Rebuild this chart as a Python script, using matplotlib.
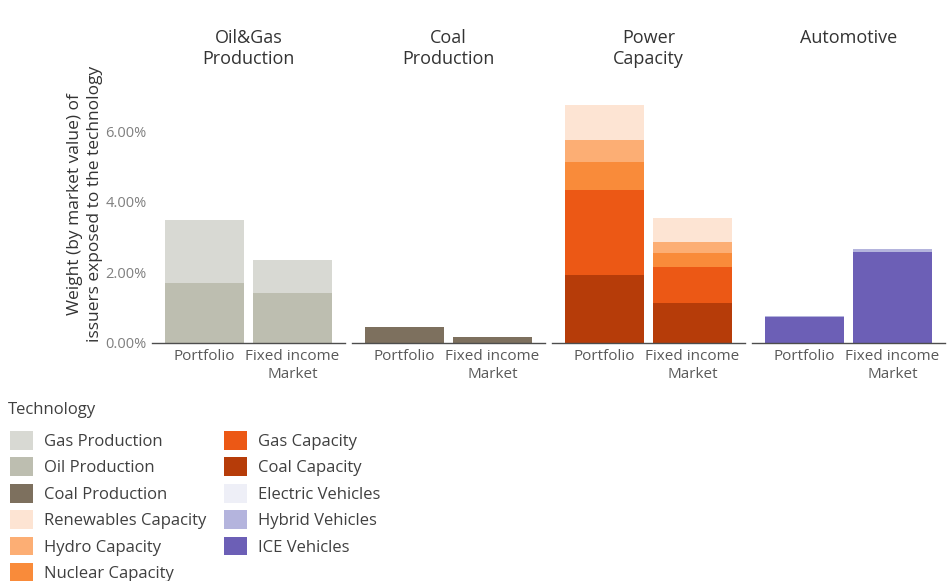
import matplotlib
matplotlib.use("Agg")
import matplotlib.pyplot as plt
from matplotlib.patches import Patch
from matplotlib.ticker import FuncFormatter

plt.rcParams['font.family'] = ['Open Sans', 'DejaVu Sans']

# ---- data (percent of market value) ----
categories = ["Portfolio", "Fixed income\nMarket"]
sectors = ["Oil&Gas\nProduction", "Coal\nProduction", "Power\nCapacity", "Automotive"]

oil_production = [1.70, 1.42]
gas_production = [1.78, 0.93]
coal_production = [0.45, 0.17]
coal_capacity = [1.93, 1.13]
gas_capacity = [2.40, 1.02]
nuclear_capacity = [0.80, 0.40]
hydro_capacity = [0.62, 0.31]
renewables_capacity = [0.99, 0.68]
ice_vehicles = [0.74, 2.58]
hybrid_vehicles = [0.02, 0.08]
electric_vehicles = [0.00, 0.01]

colors = {
    "Gas Production": "#d8d9d3",
    "Oil Production": "#bdbeb0",
    "Coal Production": "#7d705e",
    "Renewables Capacity": "#fde4d3",
    "Hydro Capacity": "#fcae74",
    "Nuclear Capacity": "#f98b3a",
    "Gas Capacity": "#ec5815",
    "Coal Capacity": "#b63c09",
    "Electric Vehicles": "#eeeff7",
    "Hybrid Vehicles": "#b4b4dd",
    "ICE Vehicles": "#6c5fb6",
}

stacks = [
    [("Oil Production", oil_production), ("Gas Production", gas_production)],
    [("Coal Production", coal_production)],
    [("Coal Capacity", coal_capacity), ("Gas Capacity", gas_capacity),
     ("Nuclear Capacity", nuclear_capacity), ("Hydro Capacity", hydro_capacity),
     ("Renewables Capacity", renewables_capacity)],
    [("ICE Vehicles", ice_vehicles), ("Hybrid Vehicles", hybrid_vehicles),
     ("Electric Vehicles", electric_vehicles)],
]

legend_order = ["Gas Production", "Oil Production", "Coal Production",
                "Renewables Capacity", "Hydro Capacity", "Nuclear Capacity",
                "Gas Capacity", "Coal Capacity", "Electric Vehicles",
                "Hybrid Vehicles", "ICE Vehicles"]

W, H = 951, 581
fig = plt.figure(figsize=(W / 100, H / 100), dpi=100)
fig.patch.set_facecolor("white")

panel_lefts = [152, 352, 552, 752]
panel_w = 193
base_y = 343
top_y = 80
ymax = 7.45

text_col = "#595959"
tick_col = "#7f7f7f"

x = [0, 1]
for i, (sec, stack) in enumerate(zip(sectors, stacks)):
    ax = fig.add_axes([panel_lefts[i] / W, 1 - base_y / H, panel_w / W, (base_y - top_y) / H])
    bottoms = [0.0, 0.0]
    for name, vals in stack:
        ax.bar(x, vals, width=0.9, bottom=bottoms, color=colors[name], linewidth=0)
        bottoms = [b + v for b, v in zip(bottoms, vals)]
    ax.set_xlim(-0.6, 1.6)
    ax.set_ylim(0, ymax)
    ax.set_yticks([0, 2, 4, 6])
    ax.yaxis.set_major_formatter(FuncFormatter(lambda v, p: f"{v:.2f}%"))
    ax.set_xticks(x)
    ax.set_xticklabels(categories, fontsize=11, color=text_col, linespacing=1.3)
    ax.tick_params(axis="x", length=0, pad=4)
    ax.tick_params(axis="y", length=0, labelsize=10.5, labelcolor=tick_col, pad=4)
    for s in ["top", "right", "left"]:
        ax.spines[s].set_visible(False)
    ax.spines["bottom"].set_color("#4d4d4d")
    ax.spines["bottom"].set_linewidth(1.0)
    if i > 0:
        ax.set_yticklabels([])
    ax.set_facecolor("none")
    fig.text((panel_lefts[i] + panel_w / 2) / W, 1 - 29 / H, sec, ha="center", va="top",
             fontsize=13, color="#333333", linespacing=1.2)

fig.text(85 / W, 1 - 204 / H, "Weight (by market value) of\nissuers exposed to the technology",
         rotation=90, ha="center", va="center", fontsize=12.5, color="#333333", linespacing=1.3)

fig.text(8 / W, 1 - 410 / H, "Technology", ha="left", va="center", fontsize=12, color="#404040")

handles = [Patch(facecolor=colors[n], edgecolor="none", label=n) for n in legend_order]
leg = fig.legend(handles=handles, loc="upper left", bbox_to_anchor=(10 / W, 1 - 431 / H),
                 ncol=2, frameon=False, alignment="left",
                 fontsize=12, handlelength=1.35, handleheight=1.35,
                 labelspacing=0.45, columnspacing=1.05, handletextpad=0.7,
                 borderaxespad=0.0, borderpad=0.0)
for t in leg.get_texts():
    t.set_color("#404040")

fig.savefig("out.png", dpi=100, facecolor="white")
